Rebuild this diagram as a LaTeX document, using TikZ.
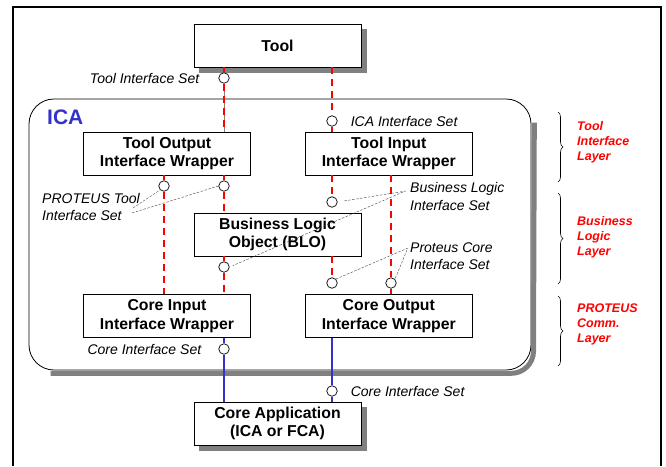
\documentclass[tikz,border=0pt]{standalone}
\usepackage{fontspec}
\setmainfont{Liberation Sans}
\usepackage[]{tikz}
\usepackage[]{xcolor}
\usetikzlibrary{positioning}
\usetikzlibrary{calc}
\usetikzlibrary{decorations.pathreplacing}

\definecolor{icablue}{RGB}{51,51,204}
\definecolor{dropgray}{RGB}{128,128,128}

\begin{document}
\begin{tikzpicture}[
        x=1pt, y=-1pt,
        align=center,
        box/.style = {draw, fill=white, line width=0.8pt, minimum width=167pt, minimum height=43pt, inner sep=1pt,
                      font=\bfseries\fontsize{15.8}{18.7}\selectfont},
        icaframe/.style = {draw, fill=white, line width=0.8pt, rounded corners=25pt, minimum width=502pt, minimum height=271pt},
        dropedge/.style = {draw=dropgray, line width=5pt, line cap=butt, line join=miter},
        port/.style = {draw, circle, fill=white, line width=0.7pt, minimum size=10.5pt, inner sep=0pt},
        redlink/.style = {draw=red, line width=1.8pt, dash pattern=on 7pt off 5pt},
        bluelink/.style = {draw=icablue, line width=1.6pt},
        leader/.style = {draw=black!75, line width=0.4pt, dash pattern=on 2.5pt off 1.5pt},
        setlabel/.style = {inner sep=1pt, align=left, font=\itshape\fontsize{14}{17.2}\selectfont},
        layerlabel/.style = {inner sep=0pt, align=left, text=red, font=\bfseries\itshape\fontsize{12.5}{15}\selectfont},
        layerbrace/.style = {decorate, decoration={brace, amplitude=5pt}, line width=0.6pt}
    ]

        \useasboundingbox (0,0) rectangle (666,466);
        \draw[line width=2.2pt] (13,466) -- (13,7) -- (661,7) -- (661,466);

        % boxes
        \node[icaframe] (ica) at (280,234.5) {};
        \node[text=icablue, anchor=base west, inner sep=0pt, font=\bfseries\fontsize{21}{24}\selectfont] (icatitle) at (47,124.5) {ICA};

        \node[box] (tool) at (277.5,45.5) {Tool};
        \node[box] (toolout) at (167,153.5) {Tool Output\\Interface Wrapper};
        \node[box] (toolin) [right=54pt of toolout] {Tool Input\\Interface Wrapper};
        \node[box] (blo) at (277.5,234.5) {Business Logic\\Object (BLO)};
        \node[box] (corein) [below=119pt of toolout] {Core Input\\Interface Wrapper};
        \node[box] (coreout) [right=54pt of corein] {Core Output\\Interface Wrapper};
        \node[box] (coreapp) at (277.5,423.5) {Core Application\\(ICA or FCA)};

        % drop shadows
        \draw[dropedge] ($(tool.south west)+(5,2.9)$) -- ($(tool.south east)+(5.4,2.9)$);
        \draw[dropedge] ($(tool.north east)+(2.9,5)$) -- ($(tool.south east)+(2.9,5.4)$);
        \draw[dropedge] ($(coreapp.south west)+(5,2.9)$) -- ($(coreapp.south east)+(5.4,2.9)$);
        \draw[dropedge] ($(coreapp.north east)+(2.9,5)$) -- ($(coreapp.south east)+(2.9,5.4)$);
        \draw[dropedge] ($(ica.south west)+(22,2.9)$) -- ($(ica.south east)+(-20,2.9)$)
            arc[start angle=-90, end angle=0, radius=22.1pt] -- ($(ica.north east)+(2.9,24)$);

        % interface ports
        \node[port] (tis) at (224,78) {};
        \node[port] (icis) at (332,121) {};
        \node[port] (pta) at (164,186) {};
        \node[port] (ptb) at (224,186) {};
        \node[port] (bla) at (332,202) {};
        \node[port] (blb) at (224,267) {};
        \node[port] (pca) at (332,283) {};
        \node[port] (pcb) at (391,283) {};
        \node[port] (cia) at (224,349) {};
        \node[port] (cib) at (332,391) {};

        % links
        \draw[redlink] (tis |- tool.south) -- (tis.north);
        \draw[redlink, preaction={draw=dropgray, solid, line width=1pt}] (tis.south) -- (tis |- toolout.north);
        \draw[redlink] (icis |- tool.south) -- (icis.north);
        \draw[redlink] (icis.south) -- (icis |- toolin.north);
        \draw[redlink] (pta |- toolout.south) -- (pta.north);
        \draw[redlink] (pta.south) -- (pta |- corein.north);
        \draw[redlink] (ptb |- toolout.south) -- (ptb.north);
        \draw[redlink] (ptb.south) -- (ptb |- blo.north);
        \draw[redlink] (bla |- toolin.south) -- (bla.north);
        \draw[redlink] (pcb |- toolin.south) -- (pcb.north);
        \draw[redlink] (pcb.south) -- (pcb |- coreout.north);
        \draw[redlink] (blb |- blo.south) -- (blb.north);
        \draw[redlink] (blb.south) -- (blb |- corein.north);
        \draw[redlink] (pca |- blo.south) -- (pca.north);
        \draw[bluelink] (cia |- corein.south) -- (cia.north);
        \draw[bluelink] (cia.south) -- (cia |- coreapp.north);
        \draw[bluelink] (cib |- coreout.south) -- (cib.north);
        \draw[bluelink] (cib.south) -- (cib |- coreapp.north);

        % interface set labels
        \node[setlabel, left=18pt of tis] (tislabel) {Tool Interface Set};
        \node[setlabel, right=12pt of icis] (icislabel) {ICA Interface Set};
        \node[setlabel, anchor=west] (ptlabel) at (41,207) {PROTEUS Tool\\Interface Set};
        \node[setlabel, anchor=west] (bllabel) at (409,196.5) {Business Logic\\Interface Set};
        \node[setlabel, anchor=west] (pclabel) at (409,256) {Proteus Core\\Interface Set};
        \node[setlabel, left=16pt of cia] (cialabel) {Core Interface Set};
        \node[setlabel, right=12pt of cib] (ciblabel) {Core Interface Set};

        \coordinate (pt1) at (133,208);
        \coordinate (pt2) at (132,213);
        \coordinate (bl1) at (406,191);
        \coordinate (bl2) at (403,192);
        \coordinate (pc1) at (408,248);
        \coordinate (pc2) at (407,250);
        \draw[leader] (pt1) -- (pta.south west);
        \draw[leader] (pt2) -- (ptb.west);
        \draw[leader, shorten >=5.5pt] (bl1) -- (bla.east);
        \draw[leader, shorten >=3.5pt] (bl2) -- (blb.east);
        \draw[leader] (pc1) -- (pca.north east);
        \draw[leader] (pc2) -- (pcb.north east);

        % layers
        \draw[layerbrace] (558,112) -- (558,182);
        \draw[layerbrace] (558,193) -- (558,284);
        \draw[layerbrace] (558,296) -- (558,366);
        \node[layerlabel, anchor=west] (toollayer) at (577,142) {Tool\\Interface\\Layer};
        \node[layerlabel, anchor=west] (bllayer) at (577,237.7) {Business\\Logic\\Layer};
        \node[layerlabel, anchor=west] (commlayer) at (577,324) {PROTEUS\\Comm.\\Layer};

    \end{tikzpicture}
\end{document}
